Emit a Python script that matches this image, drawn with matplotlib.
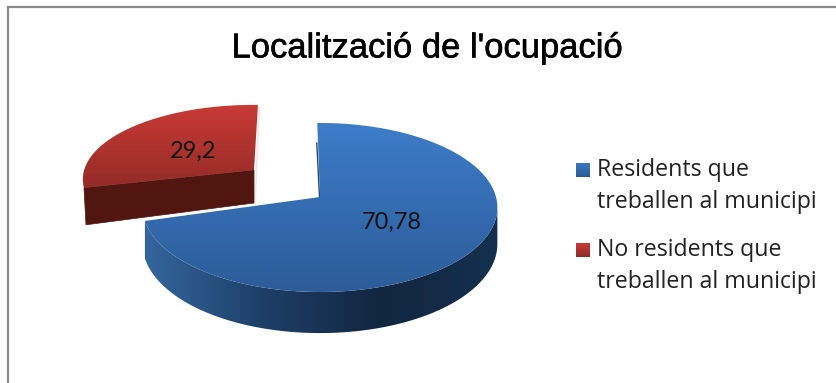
import numpy as np
import matplotlib
matplotlib.use('Agg')
import matplotlib.pyplot as plt
import matplotlib.patheffects as pe
from matplotlib.colors import LinearSegmentedColormap
from matplotlib.patches import Polygon

title = "Localització de l'ocupació"
categories = ["Residents que\ntreballen al municipi", "No residents que\ntreballen al municipi"]
values = [70.78, 29.2]
value_labels = ["70,78", "29,2"]

fig = plt.figure(figsize=(8.36, 3.83), dpi=100)
ax = fig.add_axes([0, 0, 1, 1])
ax.axis('off')

# everything below is laid out in pixels of the picture
A, B, K = 176, 83.2, 0.124


def rim(t, ox, oy, sx=1.0, sy=1.0):
    t = np.radians(t)
    u, v = np.sin(t), np.cos(t)
    s = 1 / (1 + K * v)
    return ox + A * u * s * sx, oy - B * v * s * sy, s


def grad_fill(pts, colors, extent, horizontal=False, zorder=2):
    cm = LinearSegmentedColormap.from_list('g', colors)
    g = np.linspace(0, 1, 256).reshape(-1, 1)
    if horizontal:
        g = g.T
    poly = Polygon(pts, closed=True, fc='none', ec='none', transform=ax.transData)
    ax.add_patch(poly)
    im = ax.imshow(g, cmap=cm, extent=extent, aspect='auto', origin='upper',
                   interpolation='bilinear', zorder=zorder)
    im.set_clip_path(poly)


sweep = np.array(values) / sum(values) * 360
blue_ox, blue_oy = 320, 197
red_ox, red_oy = 254, 170
red_sx, red_sy = 0.965, 0.88

# red slice, pulled out of the pie
t_red = np.linspace(sweep[0] + 1.5, 361.5, 120)
rx, ry, _ = rim(t_red, red_ox, red_oy, red_sx, red_sy)
red_top = np.vstack([[red_ox, red_oy], np.column_stack([rx, ry])])
face = [(red_ox, red_oy), (rx[0], ry[0]), (rx[0] + 2, ry[0] + 37), (red_ox, red_oy + 33)]
ax.add_patch(Polygon(face, closed=True, fc='#521610', ec='#521610', lw=0.5, zorder=2))
ax.plot([red_ox + 5, red_ox + 1], [red_oy - 62, red_oy + 32], color='#ececec', lw=1.5, zorder=1)
grad_fill(red_top, ['#cc3b36', '#8e2a26'], (80, 262, 196, 100), zorder=3)

# blue slice: side wall first, then the top
t_side = np.linspace(97, sweep[0] - 1, 160)
sx, sy, ss = rim(t_side, blue_ox, blue_oy)
side = np.vstack([np.column_stack([sx, sy]), np.column_stack([sx, sy + 36 * ss])[::-1]])
grad_fill(side, ['#35679f', '#1d4068', '#12263f', '#15304f'], (142, 500, 340, 200), horizontal=True, zorder=4)

t_blue = np.linspace(-1, sweep[0] - 1, 240)
bx, by, _ = rim(t_blue, blue_ox, blue_oy)
blue_top = np.vstack([[blue_ox, blue_oy], np.column_stack([bx, by])])
ax.plot([bx[0] - 0.5, blue_ox - 0.5], [by[0] + 20, blue_oy], color='#2a4a70', lw=1.0, zorder=4)
grad_fill(blue_top, ['#3d7dca', '#2c5c98'], (140, 502, 294, 120), zorder=5)

ax.text(392, 222, value_labels[0], fontsize=17, family='Lato', color='#111111',
        ha='center', va='center', zorder=6)
ax.text(193, 151, value_labels[1], fontsize=17, family='Lato', color='#111111',
        ha='center', va='center', zorder=6)

ax.text(428, 48, title, fontsize=24.9, family='Liberation Sans', color='black',
        ha='center', va='center',
        path_effects=[pe.withStroke(linewidth=0.4, foreground='black')])

# legend
legend_y = [186, 266]
swatches = [['#3a78c2', '#2b5a94'], ['#cc3b36', '#8e2a26']]
for cat, y, cols in zip(categories, legend_y, swatches):
    grad_fill([(576, y - 23), (590, y - 23), (590, y - 9), (576, y - 9)], cols,
              (576, 590, y - 9, y - 23))
    ax.text(597, y, cat, fontsize=16.7, family='Open Sans', color='#222222',
            ha='left', va='center', linespacing=1.4)

# chart frame, only top and left edges are in the crop
ax.plot([8, 8, 836], [383, 7, 7], color='#8a8a8a', lw=1.6, solid_joinstyle='miter')

ax.set_xlim(0, 836)
ax.set_ylim(383, 0)
fig.savefig('out.png', dpi=100)
